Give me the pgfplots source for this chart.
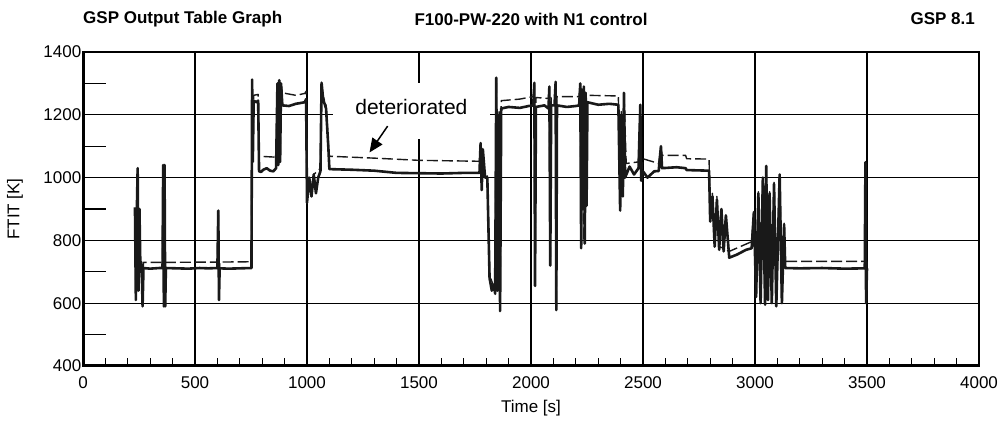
\documentclass[border=0pt]{standalone}
\usepackage{fontspec}
\setmainfont{Liberation Sans}
\usepackage{pgfplots}
\pgfplotsset{compat=1.18}
\usetikzlibrary{arrows.meta}

% engine temperature traces
\pgfplotstableread{
t y
232 905
236 610
240 880
244 1030
248 640
252 900
256 720
262 712
266 590
270 712
300 710
340 712
355 712
358 1040
361 590
364 1040
367 590
370 712
420 711
470 710
520 712
560 711
600 712
604 895
607 610
610 711
650 710
700 711
752 712
755 1312
758 1050
762 1245
775 1240
782 1245
786 1020
795 1018
805 1025
820 1030
835 1022
850 1020
862 1030
868 1300
872 1040
876 1310
880 1050
884 1300
890 1230
920 1228
950 1235
975 1238
990 1240
996 1250
1000 920
1010 1000
1020 940
1030 1010
1040 950
1050 1000
1060 1020
1065 1302
1072 1250
1085 1220
1095 1100
1100 1027
1200 1025
1300 1022
1400 1015
1500 1014
1600 1013
1700 1015
1770 1015
1775 1110
1780 960
1785 1090
1795 1000
1805 1000
1815 680
1825 640
1835 660
1840 630
1845 1318
1850 640
1858 1200
1862 575
1867 1220
1900 1225
1950 1222
1990 1228
2010 1230
2015 1302
2018 655
2022 1225
2060 1230
2078 1220
2082 1290
2086 720
2090 1230
2105 1230
2110 1305
2113 578
2116 1230
2160 1225
2200 1228
2215 1230
2220 1300
2224 775
2228 1280
2232 900
2236 1290
2240 790
2244 1270
2248 910
2252 1240
2300 1232
2350 1235
2390 1232
2398 895
2403 1200
2410 940
2415 1270
2420 1000
2440 1035
2460 1010
2480 1030
2488 1232
2492 990
2500 1020
2520 1000
2550 1020
2570 1021
2580 1100
2585 1030
2650 1033
2690 1030
2695 1024
2795 1022
2800 860
2810 940
2820 780
2830 930
2840 770
2850 900
2860 765
2870 880
2885 745
2920 755
2960 770
2985 775
2995 890
3005 620
3015 950
3025 600
3035 1000
3045 595
3050 1037
3058 610
3065 950
3075 600
3085 980
3095 590
3110 1010
3120 600
3130 850
3135 712
3200 711
3300 712
3400 710
3490 711
3493 1049
3496 600
3500 711
}\nominal

\pgfplotstableread{
t y
232 900
236 620
244 1025
248 650
252 900
256 732
262 732
266 600
270 730
355 730
358 1035
362 600
366 730
600 731
604 890
607 620
610 731
752 732
755 1305
758 1060
762 1262
782 1265
786 1068
862 1065
868 1295
872 1050
876 1305
880 1060
884 1298
890 1270
950 1262
990 1268
996 1275
1000 930
1010 1000
1020 950
1030 1010
1060 1030
1065 1295
1072 1260
1085 1230
1095 1110
1100 1068
1300 1062
1500 1055
1770 1052
1775 1105
1785 1000
1805 1005
1815 690
1840 640
1845 1310
1850 650
1858 1210
1862 590
1867 1245
1950 1250
2010 1258
2015 1295
2018 670
2022 1255
2078 1252
2082 1290
2086 730
2090 1255
2105 1258
2110 1300
2113 590
2116 1258
2215 1258
2220 1295
2224 790
2228 1280
2236 800
2244 1270
2252 1262
2390 1260
2398 905
2403 1210
2410 950
2415 1268
2425 1045
2480 1050
2488 1225
2492 1000
2500 1060
2570 1045
2580 1095
2585 1071
2690 1071
2695 1060
2795 1059
2800 870
2810 950
2820 790
2830 940
2840 780
2860 775
2885 765
2985 796
2995 895
3005 630
3015 955
3025 610
3035 1000
3045 605
3050 1030
3058 620
3065 955
3075 610
3085 985
3095 600
3110 1005
3120 610
3130 855
3135 733
3490 733
3493 1045
3496 610
3500 733
}\deteriorated

\begin{document}
\begin{tikzpicture}[x=1pt,y=1pt]
\path[use as bounding box] (0,0) rectangle (1000,420);

\node[anchor=west, inner sep=0, font=\bfseries\fontsize{17}{20}\selectfont] at (83,401) {GSP Output Table Graph};
\node[inner sep=0, font=\bfseries\fontsize{17}{20}\selectfont] at (531,401) {F100-PW-220 with N1 control};
\node[anchor=east, inner sep=0, font=\bfseries\fontsize{17}{20}\selectfont] at (975,401) {GSP 8.1};

\begin{axis}[
    at={(83pt,54pt)}, anchor=south west,
    scale only axis, width=896pt, height=314pt,
    xmin=0, xmax=4000, ymin=400, ymax=1400,
    xtick={0,500,...,4000},
    ytick={400,600,...,1400},
    minor x tick num=4,
    tick pos=left, tick align=inside,
    major tick length=0pt, minor tick length=8pt,
    minor tick style={black, line width=1.2pt},
    grid=major,
    major grid style={black, line width=1.2pt},
    axis line style={black, line width=1.5pt},
    clip=false,
    /pgf/number format/assume math mode=true,
    /pgf/number format/1000 sep={},
    scaled ticks=false,
    tick label style={font=\fontsize{17}{20}\selectfont, inner sep=1.5pt},
    xticklabel style={yshift=-9pt},
    xlabel={Time [s]}, ylabel={FTIT [K]},
    label style={font=\fontsize{17}{20}\selectfont},
    xlabel style={at={(axis description cs:0.5,-0.134)}, anchor=center},
    ylabel style={at={(axis description cs:-0.076,0.5)}, anchor=center},
]
% white box behind the annotation
\fill[white] (axis cs:1114,1122) rectangle (axis cs:1818,1302);

\addplot[black!90, line width=1.4pt, dash pattern=on 11pt off 4pt, line join=round] table[x=t, y=y] {\deteriorated};
\addplot[black!90, line width=2.6pt, line join=round] table[x=t, y=y] {\nominal};

\node[inner sep=0, font=\fontsize{21}{25}\selectfont] at (axis cs:1466,1226) {deteriorated};
\draw[black, line width=1.5pt, -{Triangle[length=14pt,width=12pt]}] (axis cs:1360,1164) -- (axis cs:1279,1080);

% long minor ticks on the y axis
\pgfplotsinvokeforeach{500,700,900,1100,1300}{
  \draw[black, line width=1.2pt] (axis cs:0,#1) -- ++(23pt,0pt);
}
% heavy left and bottom frame
\draw[black, line width=3pt] (rel axis cs:0,1) -- (rel axis cs:0,0) -- (rel axis cs:1,0);
\end{axis}
\end{tikzpicture}
\end{document}
